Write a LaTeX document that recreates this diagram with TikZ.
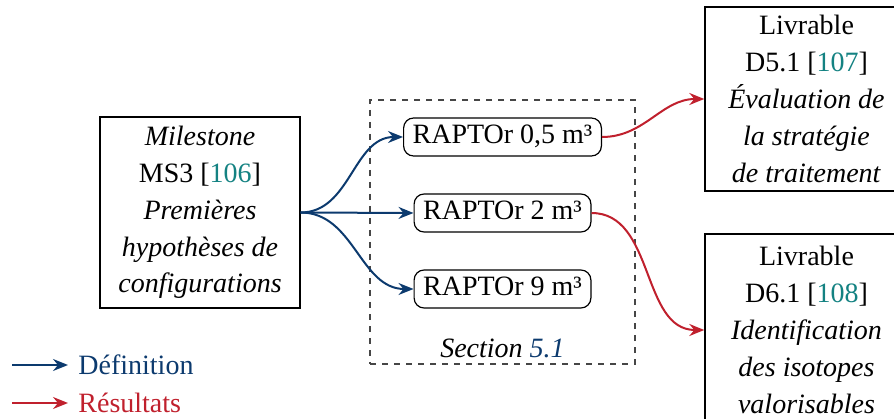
\documentclass[tikz,border=0pt]{standalone}
\usepackage{fontspec}
\setmainfont{Liberation Serif}
\usetikzlibrary{arrows.meta}
\definecolor{bleudef}{RGB}{12,58,110}
\definecolor{rougeres}{RGB}{192,32,45}
\definecolor{citecol}{RGB}{20,130,130}
\definecolor{griscadre}{RGB}{70,70,70}
\newcommand{\police}{\fontsize{14}{18.4}\selectfont}

\begin{document}
\begin{tikzpicture}[x=0.5pt, y=0.5pt,
    boite/.style={draw, line width=0.7pt, align=center, font=\police,
        minimum width=101.5pt, minimum height=92pt, inner sep=0pt},
    raptor/.style={draw, line width=0.6pt, rounded corners=5pt, font=\police,
        text height=9.5pt, text depth=3pt, minimum height=19pt,
        inner xsep=4.5pt, inner ysep=0pt},
    cadre/.style={draw=griscadre, dashed, line width=0.6pt,
        minimum width=132.5pt, minimum height=132pt},
    fdef/.style={draw=bleudef, line width=1pt,
        -{Stealth[length=7.5pt,width=6pt,inset=2.5pt]}},
    fres/.style={fdef, draw=rougeres}]
    \useasboundingbox (0,0) rectangle (894,418);
    \clip (0,0) rectangle (894,418);
    % Cadre de la section 5.1
    \node[cadre] (sec) at (502.5,186) {};
    \node[font=\police] (titre) at (502.5,70)
        {\textit{Section} \textcolor{bleudef}{\textit{5.1}}};
    % Jalon d'entrée
    \node[boite, minimum width=100pt, minimum height=95.5pt] (ms3) at (200,205.5)
        {\textit{Milestone}\\ MS3 [\textcolor{citecol}{106}]\\ \textit{Premières}\\
         \textit{hypothèses de}\\ \textit{configurations}};
    % Les trois configurations
    \node[raptor] (r05) at (502.5,281) {RAPTOr 0,5 m³};
    \node[raptor] (r2) at (502.5,205) {RAPTOr 2 m³};
    \node[raptor] (r9) at (502.5,129) {RAPTOr 9 m³};
    % Livrables
    \node[boite] (d51) at (806.5,319)
        {Livrable\\ D5.1 [\textcolor{citecol}{107}]\\ \textit{Évaluation de}\\
         \textit{la stratégie}\\ \textit{de traitement}};
    \node[boite, minimum height=96pt] (d61) at (806.5,88)
        {Livrable\\ D6.1 [\textcolor{citecol}{108}]\\ \textit{Identification}\\
         \textit{des isotopes}\\ \textit{valorisables}};
    % Définition
    \draw[fdef] (ms3.east) to[out=0, in=180] (r05.west);
    \draw[fdef] (ms3.east) -- (r2.west);
    \draw[fdef] (ms3.east) to[out=0, in=180] (r9.west);
    % Résultats
    \draw[fres] (r05.east) to[out=0, in=180] (d51.west);
    \draw[fres] (r2.east) to[out=0, in=180] (d61.west);
    % Légende
    \coordinate (ldef) at (12,53);
    \coordinate (lres) at (12,15);
    \node[anchor=west, font=\police, text=bleudef, inner xsep=5pt] (tdef) at (68,53) {Définition};
    \node[anchor=west, font=\police, text=rougeres, inner xsep=5pt] (tres) at (68,15) {Résultats};
    \draw[fdef] (ldef) -- (tdef);
    \draw[fres] (lres) -- (tres);
\end{tikzpicture}
\end{document}
